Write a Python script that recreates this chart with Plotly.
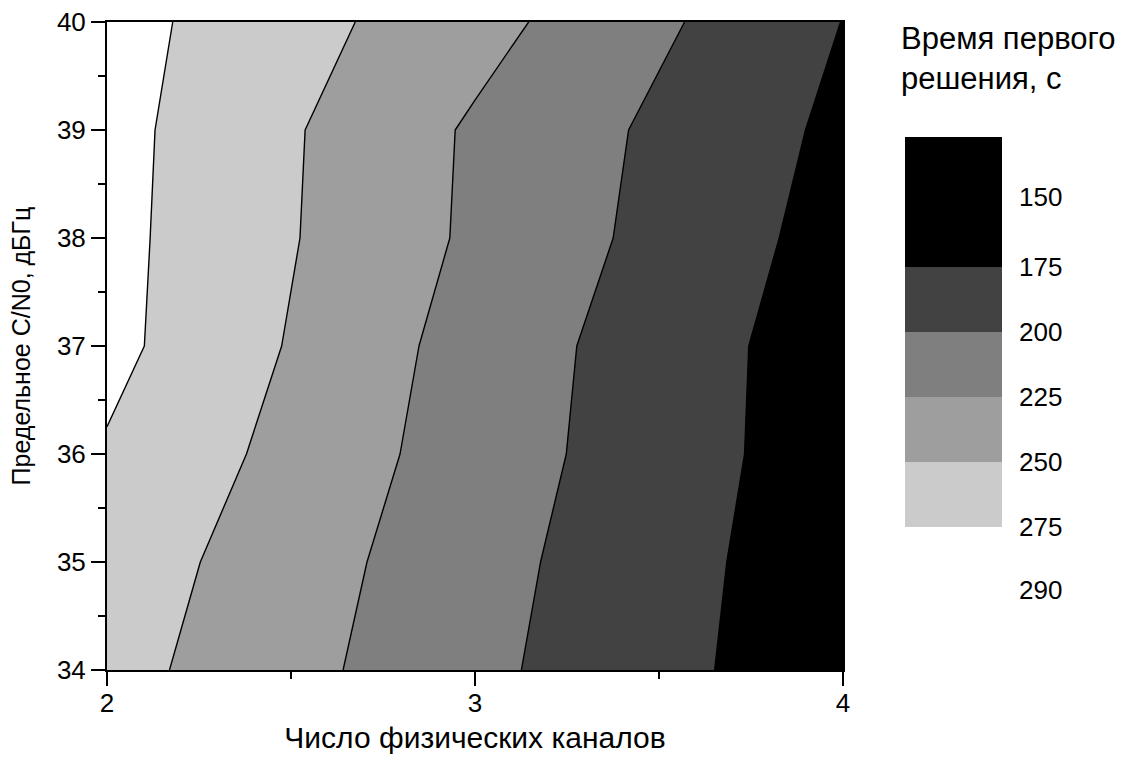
import plotly.graph_objects as go

# Time to first fix (s) vs number of physical channels and C/N0 threshold
channels = [2, 3, 4]
cn0_limit = [34, 35, 36, 37, 38, 39, 40]
time_2ch = [259.0, 264.0, 272.7, 281.8, 282.2, 283.0, 284.0]
time_3ch = [206.0, 208.8, 212.8, 214.8, 220.8, 221.7, 233.6]
time_4ch = [158.4, 159.4, 161.2, 161.3, 165.4, 169.7, 174.6]

level_start, level_end, level_step = 175, 275, 25
band_colors = ["#000000", "#424242", "#7f7f7f", "#9e9e9e", "#cbcbcb", "#ffffff"]
legend_labels = ["150", "175", "200", "225", "250", "275", "290"]

z = [[a, b, c] for a, b, c in zip(time_2ch, time_3ch, time_4ch)]

# stepwise colorscale: one flat colour per band
nb = len(band_colors)
colorscale = []
for i, c in enumerate(band_colors):
    lo = max(0.0, (i - 0.5) / (nb - 1))
    hi = min(1.0, (i + 0.5) / (nb - 1))
    colorscale.append([lo, c])
    colorscale.append([hi, c])

W, H = 1131, 771
L, R, T, B = 107, 288, 22, 101
PW, PH = W - L - R, H - T - B


def px_x(px):
    return (px - L) / PW


def px_y(py):
    return (H - B - py) / PH


fig = go.Figure()
fig.add_trace(go.Contour(
    x=channels, y=cn0_limit, z=z,
    colorscale=colorscale, showscale=False,
    contours=dict(start=level_start, end=level_end, size=level_step,
                  coloring="fill", showlines=True),
    line=dict(color="black", width=1.4, smoothing=0),
    hoverinfo="skip",
))

font_main = "Liberation Sans, Arial, sans-serif"

axis_common = dict(
    showline=True, linecolor="black", linewidth=2, mirror=True,
    ticks="outside", ticklen=14, tickwidth=2, tickcolor="black",
    showgrid=False, zeroline=False, automargin=False,
    tickfont=dict(family=font_main, size=26, color="black"),
)

fig.update_xaxes(
    range=[2, 4], tickvals=[2, 3, 4], ticklabelstandoff=-5,
    minor=dict(dtick=0.5, ticks="outside", ticklen=7, tickwidth=2, tickcolor="black"),
    title=dict(text="Число физических каналов", standoff=10,
               font=dict(family=font_main, size=30, color="black")),
    **axis_common,
)
fig.update_yaxes(
    range=[34, 40], tickvals=cn0_limit,
    minor=dict(dtick=0.5, ticks="outside", ticklen=7, tickwidth=2, tickcolor="black"),
    title=dict(text="Предельное C/N0, дБГц", standoff=19,
               font=dict(family=font_main, size=25, color="black")),
    **axis_common,
)

# legend block
box_left, box_right, box_top = 905, 1002, 137
band_h = 65
heights = [2 * band_h] + [band_h] * (nb - 1)
shapes = []
edges = [box_top]
for c, h in zip(band_colors, heights):
    y0 = edges[-1]
    y1 = y0 + h
    edges.append(y1)
    shapes.append(dict(type="rect", xref="paper", yref="paper",
                       x0=px_x(box_left), x1=px_x(box_right),
                       y0=px_y(y1), y1=px_y(y0),
                       fillcolor=c, line=dict(width=0), layer="above"))

label_y = [box_top + 60] + edges[1:nb] + [edges[nb - 1] + 63]
annotations = []
for txt, ly in zip(legend_labels, label_y):
    annotations.append(dict(text=txt, xref="paper", yref="paper",
                            x=px_x(1017), y=px_y(ly), xanchor="left", yanchor="middle",
                            showarrow=False,
                            font=dict(family=font_main, size=26, color="black")))
annotations.append(dict(text="Время первого<br>решения, с", xref="paper", yref="paper",
                        x=px_x(899), y=px_y(19), xanchor="left", yanchor="top",
                        align="left", showarrow=False,
                        font=dict(family=font_main, size=31, color="black")))

fig.update_layout(
    width=W, height=H,
    margin=dict(l=L, r=R, t=T, b=B),
    paper_bgcolor="white", plot_bgcolor="white",
    shapes=shapes, annotations=annotations,
    showlegend=False,
)

fig.write_html("out.html")
